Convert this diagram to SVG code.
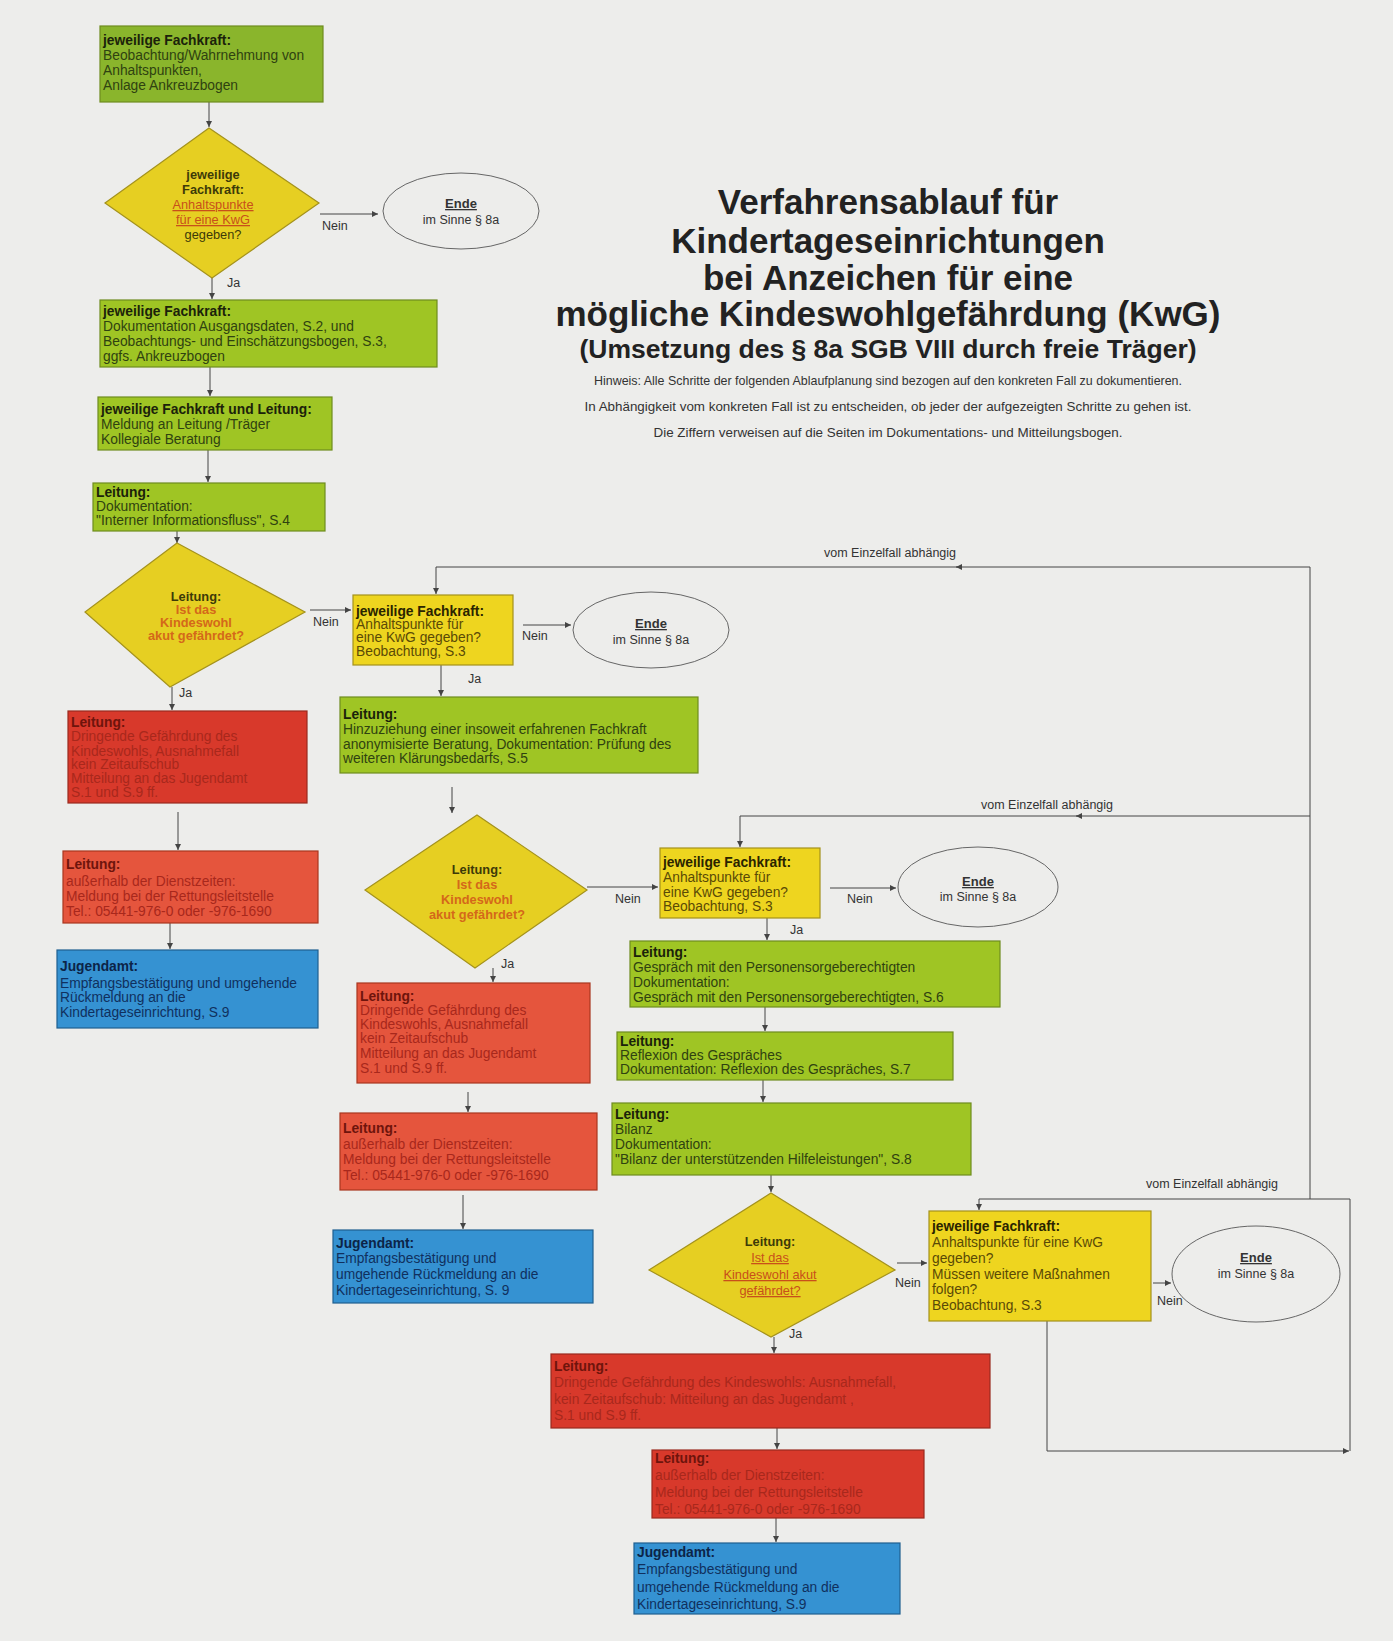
<svg xmlns="http://www.w3.org/2000/svg" width="1393" height="1641" viewBox="0 0 1393 1641">
<defs>
<marker id="ah" markerWidth="8" markerHeight="8" refX="6" refY="3" orient="auto" markerUnits="userSpaceOnUse">
<path d="M0,0 L6,3 L0,6 z" fill="#444"/>
</marker>
<style>
text{font-family:"Liberation Sans",Arial,sans-serif;font-size:13.8px;fill:#2f4210}
.h{font-weight:bold;fill:#1b220a}
.g{fill:#9fc524;stroke:#6e8c1e;stroke-width:1.2}
.g0{fill:#8ab52c;stroke:#6e8c1e;stroke-width:1.2}
.y{fill:#eed51f;stroke:#a4921c;stroke-width:1.2}
.yd{fill:#e6cf22;stroke:#a4921c;stroke-width:1.2}
.r{fill:#d8392b;stroke:#9a2a1e;stroke-width:1.2}
.r2{fill:#e5553d;stroke:#a8361f;stroke-width:1.2}
.b{fill:#3592d2;stroke:#1f5f90;stroke-width:1.2}
.rt{fill:#a8281c}
.rh{font-weight:bold;fill:#6e140c}
.bt{fill:#10305e}
.bh{font-weight:bold;fill:#0c2448}
.yt{fill:#5a4a06}
.yh{font-weight:bold;fill:#2a2400}
.dh{font-weight:bold;fill:#3d3a08;text-anchor:middle;font-size:12.8px}
.dq{font-weight:bold;fill:#d4681a;text-anchor:middle;font-size:12.8px}
.du{fill:#c8501a;text-anchor:middle;text-decoration:underline;font-size:12.8px}
.el{fill:none;stroke:#666;stroke-width:1}
.et{font-weight:bold;fill:#333;text-anchor:middle;text-decoration:underline;font-size:13px}
.es{fill:#333;text-anchor:middle;font-size:12.5px}
.lb{fill:#333;font-size:12.5px}
.lbm{fill:#333;font-size:12.5px;text-anchor:middle}
.ti{font-weight:bold;fill:#222;text-anchor:middle;font-size:35px}
.ts{font-weight:bold;fill:#222;text-anchor:middle;font-size:26.5px}
.hw{fill:#333;text-anchor:middle;font-size:13px}
.c{fill:none;stroke:#444;stroke-width:1}
</style>
</defs>
<rect x="0" y="0" width="1393" height="1641" fill="#ededeb"/>

<g id="title">
<text class="ti" x="888" y="214">Verfahrensablauf für</text>
<text class="ti" x="888" y="253">Kindertageseinrichtungen</text>
<text class="ti" x="888" y="290">bei Anzeichen für eine</text>
<text class="ti" x="888" y="326">mögliche Kindeswohlgefährdung (KwG)</text>
<text class="ts" x="888" y="358">(Umsetzung des § 8a SGB VIII durch freie Träger)</text>
<text class="hw" x="888" y="385" textLength="588" lengthAdjust="spacingAndGlyphs">Hinweis: Alle Schritte der folgenden Ablaufplanung sind bezogen auf den konkreten Fall zu dokumentieren.</text>
<text class="hw" x="888" y="411" textLength="607" lengthAdjust="spacingAndGlyphs">In Abhängigkeit vom konkreten Fall ist zu entscheiden, ob jeder der aufgezeigten Schritte zu gehen ist.</text>
<text class="hw" x="888" y="437" textLength="469" lengthAdjust="spacingAndGlyphs">Die Ziffern verweisen auf die Seiten im Dokumentations- und Mitteilungsbogen.</text>
</g>

<g id="connectors">
<line class="c" x1="209" y1="102" x2="209" y2="127" marker-end="url(#ah)"/>
<line class="c" x1="320" y1="214" x2="378" y2="214" marker-end="url(#ah)"/>
<line class="c" x1="212" y1="278" x2="212" y2="299" marker-end="url(#ah)"/>
<line class="c" x1="210" y1="367" x2="210" y2="396" marker-end="url(#ah)"/>
<line class="c" x1="208" y1="450" x2="208" y2="482" marker-end="url(#ah)"/>
<line class="c" x1="177" y1="531" x2="177" y2="543" marker-end="url(#ah)"/>
<line class="c" x1="310" y1="610" x2="351" y2="610" marker-end="url(#ah)"/>
<line class="c" x1="172" y1="687" x2="172" y2="710" marker-end="url(#ah)"/>
<line class="c" x1="178" y1="812" x2="178" y2="850" marker-end="url(#ah)"/>
<line class="c" x1="170" y1="923" x2="170" y2="949" marker-end="url(#ah)"/>
<polyline class="c" points="1310,567 436,567 436,594" marker-end="url(#ah)"/>
<line class="c" x1="962" y1="567" x2="956" y2="567" marker-end="url(#ah)"/>
<line class="c" x1="523" y1="625" x2="571" y2="625" marker-end="url(#ah)"/>
<line class="c" x1="441" y1="665" x2="441" y2="696" marker-end="url(#ah)"/>
<line class="c" x1="452" y1="787" x2="452" y2="813" marker-end="url(#ah)"/>
<line class="c" x1="587" y1="887" x2="658" y2="887" marker-end="url(#ah)"/>
<line class="c" x1="493" y1="968" x2="493" y2="982" marker-end="url(#ah)"/>
<line class="c" x1="468" y1="1092" x2="468" y2="1112" marker-end="url(#ah)"/>
<line class="c" x1="463" y1="1195" x2="463" y2="1229" marker-end="url(#ah)"/>
<polyline class="c" points="1310,816 740,816 740,847" marker-end="url(#ah)"/>
<line class="c" x1="1082" y1="816" x2="1076" y2="816" marker-end="url(#ah)"/>
<line class="c" x1="830" y1="888" x2="896" y2="888" marker-end="url(#ah)"/>
<line class="c" x1="767" y1="918" x2="767" y2="940" marker-end="url(#ah)"/>
<line class="c" x1="765" y1="1007" x2="765" y2="1031" marker-end="url(#ah)"/>
<line class="c" x1="763" y1="1080" x2="763" y2="1102" marker-end="url(#ah)"/>
<line class="c" x1="771" y1="1175" x2="771" y2="1192" marker-end="url(#ah)"/>
<line class="c" x1="897" y1="1263" x2="927" y2="1263" marker-end="url(#ah)"/>
<polyline class="c" points="1350,1199 979,1199 979,1210" marker-end="url(#ah)"/>
<line class="c" x1="1310" y1="567" x2="1310" y2="1199"/>
<line class="c" x1="1350" y1="1199" x2="1350" y2="1451"/>
<line class="c" x1="1153" y1="1283" x2="1171" y2="1283" marker-end="url(#ah)"/>
<line class="c" x1="774" y1="1337" x2="774" y2="1353" marker-end="url(#ah)"/>
<line class="c" x1="777" y1="1428" x2="777" y2="1449" marker-end="url(#ah)"/>
<line class="c" x1="776" y1="1518" x2="776" y2="1542" marker-end="url(#ah)"/>
<polyline class="c" points="1047,1321 1047,1451 1349,1451" marker-end="url(#ah)"/>
<text class="lb" x="322" y="230">Nein</text>
<text class="lb" x="227" y="287">Ja</text>
<text class="lb" x="313" y="626">Nein</text>
<text class="lb" x="179" y="697">Ja</text>
<text class="lb" x="522" y="640">Nein</text>
<text class="lb" x="468" y="683">Ja</text>
<text class="lb" x="615" y="903">Nein</text>
<text class="lb" x="501" y="968">Ja</text>
<text class="lb" x="847" y="903">Nein</text>
<text class="lb" x="790" y="934">Ja</text>
<text class="lb" x="895" y="1287">Nein</text>
<text class="lb" x="789" y="1338">Ja</text>
<text class="lb" x="1157" y="1305">Nein</text>
<text class="lbm" x="890" y="557">vom Einzelfall abhängig</text>
<text class="lbm" x="1047" y="809">vom Einzelfall abhängig</text>
<text class="lbm" x="1212" y="1188">vom Einzelfall abhängig</text>
</g>

<g id="n1">
<rect class="g0" x="100" y="26" width="223" height="76"/>
<text class="h" x="103" y="45">jeweilige Fachkraft:</text>
<text x="103" y="60">Beobachtung/Wahrnehmung von</text>
<text x="103" y="75">Anhaltspunkten,</text>
<text x="103" y="90">Anlage Ankreuzbogen</text>
</g>

<g id="d1">
<polygon class="yd" points="209,128 319,203 212,278 105,203"/>
<text class="dh" x="213" y="179">jeweilige</text>
<text class="dh" x="213" y="194">Fachkraft:</text>
<text class="du" x="213" y="209">Anhaltspunkte</text>
<text class="du" x="213" y="224">für eine KwG</text>
<text class="dh" x="213" y="239" style="font-weight:normal">gegeben?</text>
</g>

<g id="e1">
<ellipse class="el" cx="461" cy="211" rx="78" ry="38"/>
<text class="et" x="461" y="208">Ende</text>
<text class="es" x="461" y="224">im Sinne § 8a</text>
</g>

<g id="n2">
<rect class="g" x="100" y="300" width="337" height="67"/>
<text class="h" x="103" y="316">jeweilige Fachkraft:</text>
<text x="103" y="331">Dokumentation Ausgangsdaten, S.2, und</text>
<text x="103" y="346">Beobachtungs- und Einschätzungsbogen, S.3,</text>
<text x="103" y="361">ggfs. Ankreuzbogen</text>
</g>

<g id="n3">
<rect class="g" x="98" y="397" width="234" height="53"/>
<text class="h" x="101" y="414">jeweilige Fachkraft und Leitung:</text>
<text x="101" y="429">Meldung an Leitung /Träger</text>
<text x="101" y="444">Kollegiale Beratung</text>
</g>

<g id="n4">
<rect class="g" x="93" y="483" width="232" height="48"/>
<text class="h" x="96" y="497">Leitung:</text>
<text x="96" y="511">Dokumentation:</text>
<text x="96" y="525">"Interner Informationsfluss", S.4</text>
</g>

<g id="d2">
<polygon class="yd" points="177,543 305,612 170,687 85,612"/>
<text class="dh" x="196" y="601">Leitung:</text>
<text class="dq" x="196" y="614">Ist das</text>
<text class="dq" x="196" y="627">Kindeswohl</text>
<text class="dq" x="196" y="640">akut gefährdet?</text>
</g>

<g id="n5">
<rect class="r" x="68" y="711" width="239" height="92"/>
<text class="rh" x="71" y="727">Leitung:</text>
<text class="rt" x="71" y="741">Dringende Gefährdung des</text>
<text class="rt" x="71" y="756">Kindeswohls, Ausnahmefall</text>
<text class="rt" x="71" y="769">kein Zeitaufschub</text>
<text class="rt" x="71" y="783">Mitteilung an das Jugendamt</text>
<text class="rt" x="71" y="797">S.1 und S.9 ff.</text>
</g>

<g id="n6">
<rect class="r2" x="63" y="851" width="255" height="72"/>
<text class="rh" x="66" y="869">Leitung:</text>
<text class="rt" x="66" y="886">außerhalb der Dienstzeiten:</text>
<text class="rt" x="66" y="901">Meldung bei der Rettungsleitstelle</text>
<text class="rt" x="66" y="916">Tel.: 05441-976-0  oder  -976-1690</text>
</g>

<g id="n7">
<rect class="b" x="57" y="950" width="261" height="78"/>
<text class="bh" x="60" y="971">Jugendamt:</text>
<text class="bt" x="60" y="988">Empfangsbestätigung und umgehende</text>
<text class="bt" x="60" y="1002">Rückmeldung an die</text>
<text class="bt" x="60" y="1017">Kindertageseinrichtung, S.9</text>
</g>

<g id="n8">
<rect class="y" x="353" y="595" width="160" height="70"/>
<text class="yh" x="356" y="616">jeweilige Fachkraft:</text>
<text class="yt" x="356" y="629">Anhaltspunkte für</text>
<text class="yt" x="356" y="642">eine KwG gegeben?</text>
<text class="yt" x="356" y="656">Beobachtung, S.3</text>
</g>

<g id="e2">
<ellipse class="el" cx="651" cy="630" rx="78" ry="38"/>
<text class="et" x="651" y="628">Ende</text>
<text class="es" x="651" y="644">im Sinne § 8a</text>
</g>

<g id="n9">
<rect class="g" x="340" y="697" width="358" height="76"/>
<text class="h" x="343" y="719">Leitung:</text>
<text x="343" y="734">Hinzuziehung einer insoweit erfahrenen Fachkraft</text>
<text x="343" y="749">anonymisierte Beratung, Dokumentation: Prüfung des</text>
<text x="343" y="763">weiteren Klärungsbedarfs, S.5</text>
</g>

<g id="d3">
<polygon class="yd" points="477,815 587,890 475,968 365,890"/>
<text class="dh" x="477" y="874">Leitung:</text>
<text class="dq" x="477" y="889">Ist das</text>
<text class="dq" x="477" y="904">Kindeswohl</text>
<text class="dq" x="477" y="919">akut gefährdet?</text>
</g>

<g id="n10">
<rect class="r2" x="357" y="983" width="233" height="100"/>
<text class="rh" x="360" y="1001">Leitung:</text>
<text class="rt" x="360" y="1015">Dringende Gefährdung des</text>
<text class="rt" x="360" y="1029">Kindeswohls, Ausnahmefall</text>
<text class="rt" x="360" y="1043">kein Zeitaufschub</text>
<text class="rt" x="360" y="1058">Mitteilung an das Jugendamt</text>
<text class="rt" x="360" y="1073">S.1 und S.9 ff.</text>
</g>

<g id="n11">
<rect class="r2" x="340" y="1113" width="257" height="77"/>
<text class="rh" x="343" y="1133">Leitung:</text>
<text class="rt" x="343" y="1149">außerhalb der Dienstzeiten:</text>
<text class="rt" x="343" y="1164">Meldung bei der Rettungsleitstelle</text>
<text class="rt" x="343" y="1180">Tel.: 05441-976-0  oder  -976-1690</text>
</g>

<g id="n12">
<rect class="b" x="333" y="1230" width="260" height="73"/>
<text class="bh" x="336" y="1248">Jugendamt:</text>
<text class="bt" x="336" y="1263">Empfangsbestätigung  und</text>
<text class="bt" x="336" y="1279">umgehende Rückmeldung an die</text>
<text class="bt" x="336" y="1295">Kindertageseinrichtung, S. 9</text>
</g>

<g id="n13">
<rect class="y" x="660" y="848" width="160" height="70"/>
<text class="yh" x="663" y="867">jeweilige Fachkraft:</text>
<text class="yt" x="663" y="882">Anhaltspunkte für</text>
<text class="yt" x="663" y="897">eine KwG gegeben?</text>
<text class="yt" x="663" y="911">Beobachtung, S.3</text>
</g>

<g id="e3">
<ellipse class="el" cx="978" cy="887" rx="80" ry="40"/>
<text class="et" x="978" y="886">Ende</text>
<text class="es" x="978" y="901">im Sinne § 8a</text>
</g>

<g id="n14">
<rect class="g" x="630" y="941" width="370" height="66"/>
<text class="h" x="633" y="957">Leitung:</text>
<text x="633" y="972">Gespräch mit den Personensorgeberechtigten</text>
<text x="633" y="987">Dokumentation:</text>
<text x="633" y="1002">Gespräch mit den Personensorgeberechtigten, S.6</text>
</g>

<g id="n15">
<rect class="g" x="617" y="1032" width="336" height="48"/>
<text class="h" x="620" y="1046">Leitung:</text>
<text x="620" y="1060">Reflexion des Gespräches</text>
<text x="620" y="1074">Dokumentation: Reflexion des Gespräches, S.7</text>
</g>

<g id="n16">
<rect class="g" x="612" y="1103" width="359" height="72"/>
<text class="h" x="615" y="1119">Leitung:</text>
<text x="615" y="1134">Bilanz</text>
<text x="615" y="1149">Dokumentation:</text>
<text x="615" y="1164">"Bilanz der unterstützenden Hilfeleistungen", S.8</text>
</g>

<g id="d4">
<polygon class="yd" points="771,1193 895,1270 771,1337 649,1270"/>
<text class="dh" x="770" y="1246">Leitung:</text>
<text class="du" x="770" y="1262">Ist das</text>
<text class="du" x="770" y="1279">Kindeswohl akut</text>
<text class="du" x="770" y="1295">gefährdet?</text>
</g>

<g id="n17">
<rect class="y" x="929" y="1211" width="222" height="110"/>
<text class="yh" x="932" y="1231">jeweilige Fachkraft:</text>
<text class="yt" x="932" y="1247">Anhaltspunkte für eine KwG</text>
<text class="yt" x="932" y="1263">gegeben?</text>
<text class="yt" x="932" y="1279">Müssen weitere Maßnahmen</text>
<text class="yt" x="932" y="1294">folgen?</text>
<text class="yt" x="932" y="1310">Beobachtung, S.3</text>
</g>

<g id="e4">
<ellipse class="el" cx="1256" cy="1274" rx="84" ry="48"/>
<text class="et" x="1256" y="1262">Ende</text>
<text class="es" x="1256" y="1278">im Sinne § 8a</text>
</g>

<g id="n18">
<rect class="r" x="551" y="1354" width="439" height="74"/>
<text class="rh" x="554" y="1371">Leitung:</text>
<text class="rt" x="554" y="1387">Dringende Gefährdung des Kindeswohls: Ausnahmefall,</text>
<text class="rt" x="554" y="1404">kein Zeitaufschub: Mitteilung an das Jugendamt ,</text>
<text class="rt" x="554" y="1420">S.1 und S.9 ff.</text>
</g>

<g id="n19">
<rect class="r" x="652" y="1450" width="272" height="68"/>
<text class="rh" x="655" y="1463">Leitung:</text>
<text class="rt" x="655" y="1480">außerhalb der Dienstzeiten:</text>
<text class="rt" x="655" y="1497">Meldung bei der  Rettungsleitstelle</text>
<text class="rt" x="655" y="1514">Tel.: 05441-976-0  oder   -976-1690</text>
</g>

<g id="n20">
<rect class="b" x="634" y="1543" width="266" height="71"/>
<text class="bh" x="637" y="1557">Jugendamt:</text>
<text class="bt" x="637" y="1574">Empfangsbestätigung  und</text>
<text class="bt" x="637" y="1592">umgehende Rückmeldung an die</text>
<text class="bt" x="637" y="1609">Kindertageseinrichtung, S.9</text>
</g>
</svg>
